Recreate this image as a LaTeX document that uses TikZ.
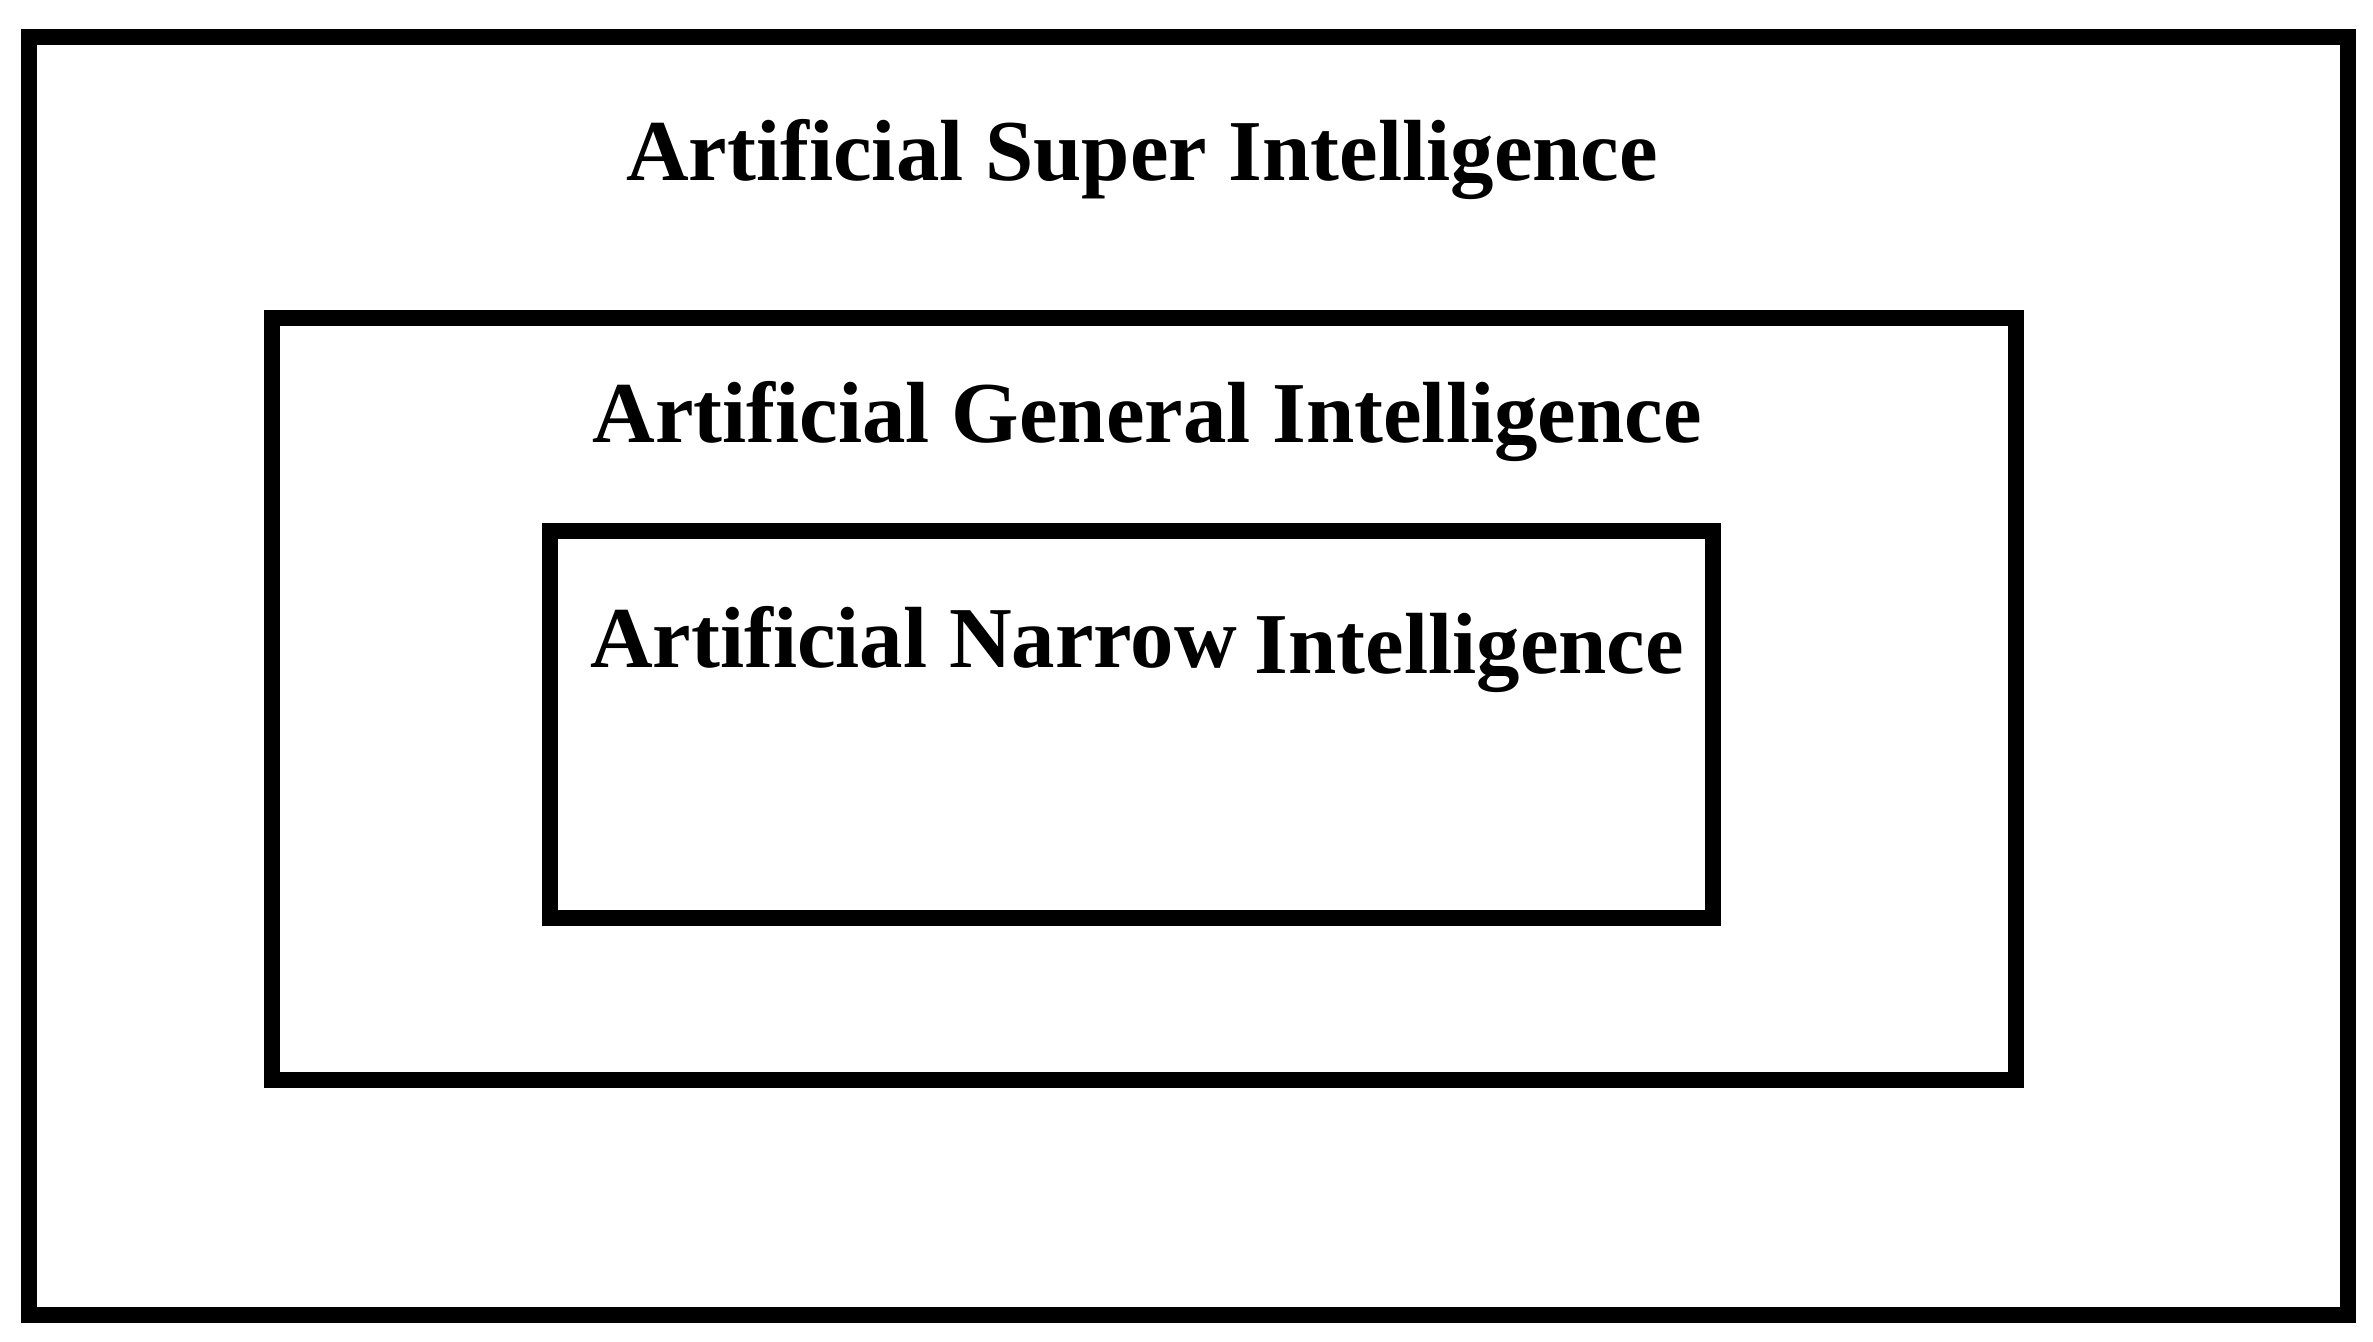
\documentclass[tikz,border=0pt]{standalone}
\usepackage{fontspec}
\setmainfont{Liberation Serif}
\usepackage{tikz}

\begin{document}
\begin{tikzpicture}[
        box/.style={
            % The border
            line width=1.6mm,
            draw=black,
            % The filling
            fill=white
        },
        title/.style={
            % The anchor
            anchor=base,
            inner sep=0pt,
            % Font
            font=\fontsize{24.7}{30}\selectfont\bfseries
        }]

    \useasboundingbox (0,0) rectangle (23.73,13.41);

    \foreach \xa/\ya/\xb/\yb in {0.29/0.26/23.48/13.04, 2.72/2.61/20.16/10.23, 5.50/4.23/17.13/8.10}
    {
        \draw [box] (\xa,\ya) rectangle (\xb,\yb);
    }

    \node [title] (asi) at (11.42,11.61) {Artificial Super Intelligence};
    \node [title] (agi) at (11.47,8.99) {Artificial General Intelligence};
    \node [title] (ani) at (11.37,6.74) {Artificial Narrow\hspace{0.18cm}\raisebox{-0.06cm}{Intelligence}};

\end{tikzpicture}
\end{document}
